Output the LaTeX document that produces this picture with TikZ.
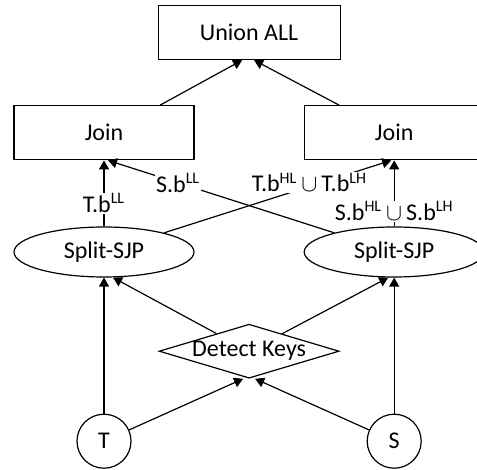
\documentclass[tikz,border=0pt]{standalone}
\usepackage{fontspec}
\setmainfont{Carlito}
\usepackage{tikz}
\usetikzlibrary{shapes.geometric, arrows.meta, positioning, calc}

\begin{document}
\begin{tikzpicture}[
    line width=0.6pt,
    font=\fontsize{12}{14}\selectfont,
    opbox/.style={rectangle, draw, fill=white, minimum width=90pt, minimum height=27pt, inner sep=0pt},
    sjp/.style={ellipse, draw, fill=white, minimum width=90pt, minimum height=25pt, inner sep=0pt},
    keys/.style={diamond, draw, fill=white, aspect=3.33, inner sep=0pt, minimum width=90pt, minimum height=27pt},
    tbl/.style={circle, draw, fill=white, minimum size=27pt, inner sep=0pt},
    arrow/.style={-{Triangle[length=4.5pt, width=5pt]}},
    lbl/.style={fill=white, inner sep=0.5pt}
]
\useasboundingbox (-52pt,-109pt) rectangle (186.5pt,126pt);

% Split operators
\node[sjp] (splitL) at (0,0) {Split-SJP};
\node[sjp, right=54.5pt of splitL] (splitR) {Split-SJP};

% Joins and union
\node[opbox, above=33pt of splitL] (joinL) {Join};
\node[opbox, above=33pt of splitR] (joinR) {Join};
\node[opbox, minimum width=91pt, above=22.5pt] (union) at ($(joinL.north)!0.5!(joinR.north)$) {Union ALL};

% Key detection
\node[keys, below=23pt] (detect) at ($(splitL.south)!0.5!(splitR.south)$) {Detect Keys};

% Input tables
\node[tbl, below=68pt of splitL] (T) {T};
\node[tbl, below=68pt of splitR] (S) {S};

% Arrows
\draw[arrow] (T) -- (splitL);
\draw[arrow] (S) -- (splitR);
\draw[arrow] (T) -- ([xshift=-3pt]detect.south);
\draw[arrow] (S) -- ([xshift=3pt]detect.south);
\draw[arrow] (detect) -- ([xshift=4.5pt]splitL.south);
\draw[arrow] (detect) -- ([xshift=-3pt]splitR.south);

\draw[arrow] (splitL) -- (joinL) node[lbl, pos=0.35] {T.b\textsuperscript{LL}};
\draw[arrow] (splitR) -- (joinR) node[lbl, pos=0.23] {S.b\textsuperscript{HL}\,$\cup$\,S.b\textsuperscript{LH}};
\draw[arrow] (splitR) -- ([xshift=2pt]joinL.south) node[lbl, pos=0.69] {S.b\textsuperscript{LL}};
\draw[arrow] (splitL) -- ([xshift=-1.5pt]joinR.south) node[lbl, pos=0.64, yshift=2pt] {T.b\textsuperscript{HL}\,$\cup$\,T.b\textsuperscript{LH}};

\draw[arrow] ([xshift=28pt]joinL.north) -- ([xshift=-3.5pt]union.south);
\draw[arrow] ([xshift=-27.5pt]joinR.north) -- ([xshift=2.5pt]union.south);

\end{tikzpicture}
\end{document}
